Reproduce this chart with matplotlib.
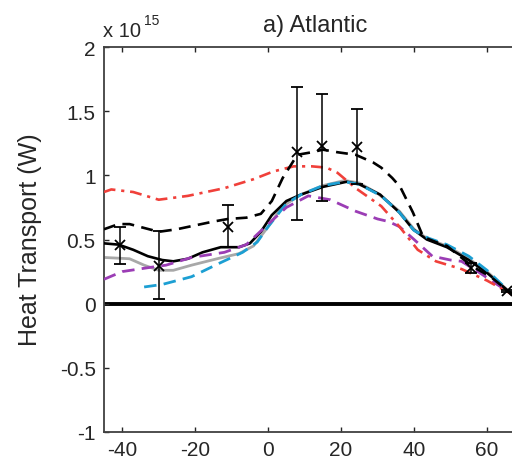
import matplotlib
matplotlib.use("Agg")
import matplotlib.pyplot as plt
from matplotlib.ticker import FixedLocator, FixedFormatter

# heat transport, units of 1e15 W
red_lat = [-45, -43, -37, -30, -22, -12, -4, 1.4, 7, 12, 16, 19, 24, 31, 36, 41, 46, 53, 60, 67]
red_val = [0.87, 0.89, 0.87, 0.81, 0.84, 0.90, 0.97, 1.03, 1.07, 1.07, 1.06, 1.02, 0.90, 0.76, 0.60, 0.42, 0.33, 0.27, 0.18, 0.07]

bkdash_lat = [-45, -41, -38, -34, -30, -25, -20, -15, -11, -6, -2, 1, 4, 8, 12, 15, 19, 24, 28.8, 31, 34, 36.2, 39.7, 42.5, 46, 49, 56, 61, 67]
bkdash_val = [0.58, 0.62, 0.62, 0.59, 0.56, 0.58, 0.61, 0.64, 0.66, 0.67, 0.70, 0.80, 0.98, 1.16, 1.18, 1.20, 1.18, 1.16, 1.10, 1.06, 0.98, 0.91, 0.71, 0.52, 0.48, 0.45, 0.29, 0.21, 0.07]

black_lat = [-45, -41, -37, -33, -29, -26, -22, -18, -13, -8, -5, -2, 1, 5, 9, 15, 21.5, 25, 30.7, 36, 39.7, 43.5, 49, 55, 60, 67]
black_val = [0.47, 0.46, 0.42, 0.37, 0.34, 0.33, 0.35, 0.40, 0.44, 0.44, 0.47, 0.56, 0.69, 0.80, 0.85, 0.91, 0.95, 0.93, 0.85, 0.71, 0.58, 0.50, 0.44, 0.34, 0.24, 0.07]

grey_lat = [-45, -38, -34, -30, -26, -21, -14, -8, -4, 0, 4, 9, 15, 21, 25, 30, 36, 40, 44, 49, 55, 60, 67]
grey_val = [0.36, 0.35, 0.30, 0.26, 0.26, 0.30, 0.35, 0.39, 0.45, 0.60, 0.76, 0.85, 0.92, 0.96, 0.94, 0.86, 0.72, 0.58, 0.50, 0.45, 0.35, 0.25, 0.07]

blue_lat = [-34, -29, -25, -21, -13, -7, -3, 0, 5, 9, 15, 21, 25, 31, 36, 40, 44, 49, 55, 60, 67]
blue_val = [0.13, 0.15, 0.18, 0.21, 0.32, 0.40, 0.48, 0.60, 0.78, 0.85, 0.92, 0.95, 0.93, 0.84, 0.71, 0.57, 0.51, 0.46, 0.37, 0.26, 0.07]

purple_lat = [-45, -40, -33, -28, -21, -12, -6, 0, 5, 11, 17, 24, 30, 33, 36, 40, 45, 50, 53, 58, 67]
purple_val = [0.19, 0.25, 0.28, 0.30, 0.36, 0.40, 0.46, 0.62, 0.75, 0.84, 0.81, 0.72, 0.66, 0.64, 0.60, 0.50, 0.37, 0.34, 0.33, 0.24, 0.07]

obs_lat = [-40.5, -30, -11, 8, 14.8, 24.3, 55.7, 65.5]
obs_val = [0.46, 0.29, 0.60, 1.18, 1.23, 1.22, 0.28, 0.10]
obs_hi = [0.60, 0.57, 0.77, 1.69, 1.63, 1.52, 0.32, 0.11]
obs_lo = [0.31, 0.04, 0.44, 0.65, 0.80, 0.93, 0.24, 0.09]

xticks = [-40, -20, 0, 20, 40, 60]
yticks = [-1, -0.5, 0, 0.5, 1, 1.5, 2]
ytick_labels = ["-1", "-0.5", "0", "0.5", "1", "1.5", "2"]

plt.rcParams['font.family'] = ['Liberation Sans', 'DejaVu Sans']
plt.rcParams['axes.unicode_minus'] = False

fig = plt.figure(figsize=(5.12, 4.64), dpi=100)
W, H = 512.0, 464.0
ax = fig.add_axes([104 / W, (H - 433) / H, (523.5 - 104) / W, (433 - 48) / H])

ax.axhline(0, color='black', lw=2.8, zorder=1)

ax.plot(grey_lat, grey_val, '-', color='#a8a8a8', lw=2.0, zorder=2)
ax.plot(black_lat, black_val, '-', color='black', lw=1.9, zorder=3)
ax.plot(blue_lat, blue_val, '--', color='#1c9fd3', lw=2.0, dashes=(4.5, 2.6), zorder=4)
ax.plot(purple_lat, purple_val, '--', color='#9b3db5', lw=2.0, dashes=(4.5, 2.6), zorder=4)
ax.plot(red_lat, red_val, '-.', color='#f0403a', lw=1.9, dashes=(4.5, 2.2, 1.2, 2.2), zorder=5)
ax.plot(bkdash_lat, bkdash_val, '--', color='black', lw=1.9, dashes=(4.5, 2.8), zorder=6)

yerr = [[v - l for v, l in zip(obs_val, obs_lo)], [h - v for v, h in zip(obs_val, obs_hi)]]
ax.errorbar(obs_lat, obs_val, yerr=yerr, fmt='x', color='black', ms=7, mew=1.3,
            elinewidth=1.1, capsize=4, capthick=1.1, zorder=7)

ax.set_xlim(-45, 70)
ax.set_ylim(-1, 2)
ax.xaxis.set_major_locator(FixedLocator(xticks))
ax.yaxis.set_major_locator(FixedLocator(yticks))
ax.yaxis.set_major_formatter(FixedFormatter(ytick_labels))
ax.tick_params(direction='in', length=3.5, width=1, top=True, right=True,
               labelsize=15, colors='#262626', pad=6)
for s in ax.spines.values():
    s.set_linewidth(1.3)
    s.set_color('#404040')

fig.text(30 / W, 1 - 240 / H, "Heat Transport (W)", rotation=90, ha='center', va='center',
         fontsize=18, color='#262626')
fig.text(315 / W, 1 - 32 / H, "a) Atlantic", ha='center', va='baseline', fontsize=17, color='#262626')
fig.text(103 / W, 1 - 37 / H, "x 10", ha='left', va='baseline', fontsize=14.5, color='#262626')
fig.text(144 / W, 1 - 25 / H, "15", ha='left', va='baseline', fontsize=10, color='#262626')

fig.savefig("out.png", dpi=100)
